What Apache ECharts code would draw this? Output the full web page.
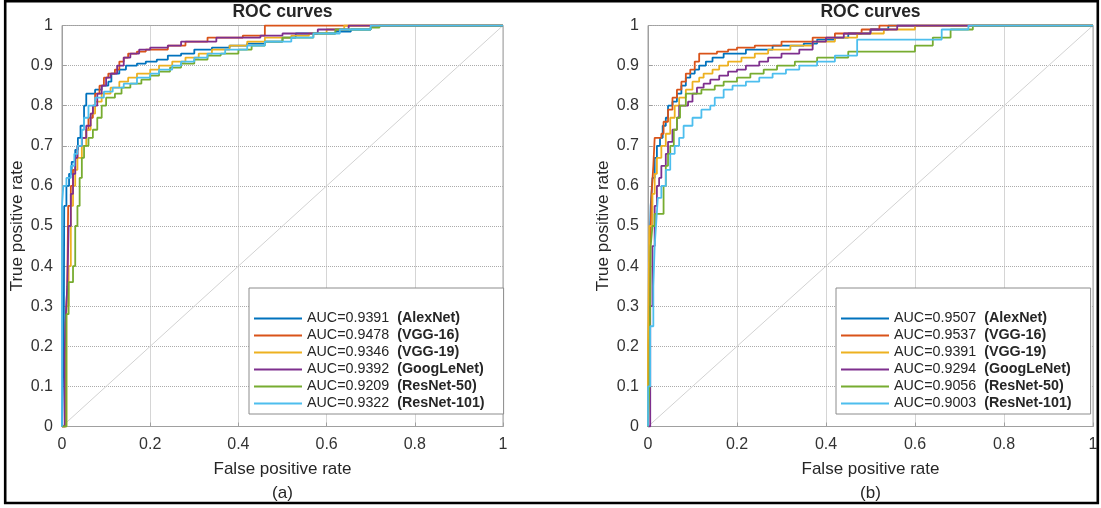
<!DOCTYPE html>
<html>
<head>
<meta charset="utf-8">
<script src="https://cdn.jsdelivr.net/npm/echarts@6/dist/echarts.min.js"></script>
<style>
  html, body { margin: 0; padding: 0; background: #fff; }
  #chart { width: 1101px; height: 508px; }
</style>
</head>
<body>
<div id="chart"></div>
<script>
// Model names, line colours and AUC values for the two ROC panels
const models = ['AlexNet', 'VGG-16', 'VGG-19', 'GoogLeNet', 'ResNet-50', 'ResNet-101'];
const lineColors = ['#0072BD', '#D95319', '#EDB120', '#7E2F8E', '#77AC30', '#4DBEEE'];
const aucPanelA = ['0.9391', '0.9478', '0.9346', '0.9392', '0.9209', '0.9322'];
const aucPanelB = ['0.9507', '0.9537', '0.9391', '0.9294', '0.9056', '0.9003'];
const panelLabels = ['(a)', '(b)'];
const xTickStep = 0.2;
const yTickStep = 0.1;

// ROC points [false positive rate, true positive rate]; each point is where the curve rises to that rate
const alexnetA = [[0,0],[0.004,0.2],[0.005,0.55],[0.01,0.6],[0.016,0.63],[0.022,0.66],[0.03,0.69],[0.036,0.72],[0.042,0.75],[0.05,0.8],[0.055,0.83],[0.075,0.84],[0.09,0.85],[0.105,0.86],[0.112,0.88],[0.13,0.89],[0.145,0.9],[0.17,0.905],[0.19,0.91],[0.215,0.915],[0.24,0.925],[0.27,0.93],[0.3,0.94],[0.34,0.945],[0.38,0.95],[0.42,0.955],[0.46,0.96],[0.5,0.97],[0.53,0.98],[0.62,0.985],[0.655,0.99],[0.7,1],[1,1]];
const vgg16A = [[0,0],[0.008,0.25],[0.012,0.35],[0.014,0.55],[0.02,0.6],[0.025,0.64],[0.03,0.67],[0.035,0.7],[0.045,0.72],[0.055,0.74],[0.06,0.77],[0.07,0.8],[0.075,0.83],[0.085,0.85],[0.095,0.87],[0.105,0.88],[0.12,0.89],[0.13,0.91],[0.14,0.92],[0.15,0.93],[0.17,0.935],[0.19,0.94],[0.24,0.95],[0.28,0.96],[0.33,0.97],[0.41,0.975],[0.46,1],[1,1]];
const vgg19A = [[0,0],[0.01,0.3],[0.015,0.4],[0.02,0.55],[0.025,0.6],[0.03,0.64],[0.035,0.67],[0.045,0.7],[0.055,0.74],[0.065,0.78],[0.075,0.81],[0.09,0.83],[0.11,0.845],[0.13,0.86],[0.15,0.87],[0.17,0.88],[0.2,0.89],[0.22,0.9],[0.25,0.91],[0.28,0.92],[0.31,0.93],[0.34,0.94],[0.38,0.95],[0.42,0.96],[0.46,0.97],[0.52,0.975],[0.56,0.98],[0.6,0.99],[0.64,1],[1,1]];
const googlenetA = [[0,0],[0.006,0.18],[0.008,0.26],[0.012,0.35],[0.015,0.5],[0.02,0.58],[0.025,0.63],[0.03,0.67],[0.035,0.7],[0.045,0.72],[0.055,0.75],[0.065,0.78],[0.07,0.8],[0.08,0.83],[0.09,0.85],[0.1,0.87],[0.11,0.88],[0.125,0.9],[0.14,0.92],[0.155,0.93],[0.175,0.94],[0.2,0.945],[0.24,0.95],[0.27,0.96],[0.35,0.97],[0.45,0.975],[0.5,0.98],[0.58,0.99],[0.65,1],[1,1]];
const resnet50A = [[0,0],[0.01,0.28],[0.015,0.36],[0.025,0.4],[0.03,0.5],[0.035,0.55],[0.04,0.62],[0.045,0.67],[0.05,0.7],[0.06,0.72],[0.07,0.74],[0.08,0.77],[0.09,0.8],[0.1,0.82],[0.12,0.83],[0.135,0.845],[0.155,0.855],[0.18,0.865],[0.2,0.875],[0.22,0.885],[0.245,0.895],[0.27,0.905],[0.3,0.915],[0.33,0.925],[0.36,0.93],[0.4,0.94],[0.43,0.95],[0.46,0.96],[0.5,0.97],[0.57,0.98],[0.62,0.99],[0.7,0.995],[0.72,1],[1,1]];
const resnet101A = [[0,0],[0,0.55],[0.003,0.6],[0.01,0.62],[0.02,0.65],[0.028,0.68],[0.035,0.7],[0.045,0.74],[0.05,0.77],[0.06,0.8],[0.075,0.82],[0.095,0.835],[0.115,0.845],[0.14,0.855],[0.17,0.87],[0.2,0.88],[0.22,0.89],[0.25,0.9],[0.27,0.91],[0.3,0.92],[0.33,0.93],[0.37,0.94],[0.42,0.95],[0.46,0.96],[0.52,0.97],[0.57,0.98],[0.63,0.99],[0.7,1],[1,1]];

const alexnetB = [[0,0],[0.003,0.4],[0.006,0.55],[0.01,0.62],[0.015,0.67],[0.02,0.7],[0.027,0.72],[0.033,0.75],[0.04,0.77],[0.045,0.8],[0.055,0.81],[0.065,0.83],[0.075,0.85],[0.085,0.87],[0.095,0.88],[0.105,0.89],[0.115,0.9],[0.13,0.91],[0.145,0.92],[0.17,0.93],[0.22,0.94],[0.28,0.95],[0.35,0.955],[0.38,0.965],[0.42,0.97],[0.45,0.98],[0.5,0.99],[0.54,1],[1,1]];
const vgg16B = [[0,0],[0.003,0.27],[0.005,0.45],[0.008,0.58],[0.012,0.65],[0.015,0.72],[0.03,0.73],[0.035,0.76],[0.045,0.79],[0.055,0.82],[0.065,0.84],[0.075,0.86],[0.085,0.88],[0.095,0.89],[0.105,0.91],[0.115,0.93],[0.155,0.935],[0.18,0.94],[0.2,0.945],[0.24,0.95],[0.3,0.96],[0.37,0.97],[0.42,0.98],[0.48,0.99],[0.52,1],[1,1]];
const vgg19B = [[0,0],[0,0.2],[0.003,0.5],[0.01,0.58],[0.015,0.63],[0.02,0.67],[0.03,0.7],[0.04,0.73],[0.05,0.77],[0.06,0.8],[0.07,0.82],[0.085,0.84],[0.1,0.86],[0.115,0.87],[0.125,0.88],[0.145,0.89],[0.16,0.9],[0.18,0.91],[0.21,0.92],[0.24,0.93],[0.27,0.94],[0.32,0.95],[0.37,0.96],[0.42,0.97],[0.47,0.98],[0.53,0.99],[0.6,1],[1,1]];
const googlenetB = [[0,0],[0.005,0.3],[0.01,0.45],[0.015,0.55],[0.02,0.6],[0.025,0.62],[0.03,0.65],[0.04,0.68],[0.045,0.71],[0.055,0.74],[0.065,0.77],[0.07,0.8],[0.09,0.81],[0.1,0.83],[0.11,0.845],[0.125,0.855],[0.14,0.865],[0.16,0.875],[0.18,0.885],[0.2,0.89],[0.22,0.9],[0.25,0.91],[0.27,0.92],[0.3,0.93],[0.34,0.94],[0.37,0.96],[0.4,0.97],[0.44,0.98],[0.5,0.99],[0.56,1],[1,1]];
const resnet50B = [[0,0],[0.003,0.1],[0.006,0.45],[0.01,0.5],[0.015,0.53],[0.035,0.6],[0.04,0.65],[0.045,0.68],[0.05,0.7],[0.058,0.74],[0.065,0.77],[0.072,0.8],[0.085,0.83],[0.12,0.84],[0.15,0.85],[0.17,0.86],[0.2,0.87],[0.23,0.88],[0.26,0.89],[0.29,0.9],[0.33,0.91],[0.38,0.92],[0.45,0.935],[0.6,0.95],[0.64,0.97],[0.68,0.99],[0.73,1],[1,1]];
const resnet101B = [[0,0],[0,0.1],[0.005,0.25],[0.012,0.35],[0.015,0.45],[0.018,0.5],[0.022,0.57],[0.03,0.6],[0.04,0.64],[0.05,0.68],[0.06,0.7],[0.07,0.72],[0.08,0.75],[0.1,0.77],[0.12,0.79],[0.14,0.8],[0.15,0.82],[0.17,0.84],[0.19,0.85],[0.22,0.86],[0.25,0.87],[0.28,0.88],[0.31,0.89],[0.34,0.9],[0.38,0.91],[0.42,0.925],[0.47,0.965],[0.66,0.99],[0.72,1],[1,1]];

const curvesA = [alexnetA, vgg16A, vgg19A, googlenetA, resnet50A, resnet101A];
const curvesB = [alexnetB, vgg16B, vgg19B, googlenetB, resnet50B, resnet101B];
const chanceLine = [[0, 0], [1, 1]];

const FONT = '"Liberation Sans", Arial, Helvetica, sans-serif';
const TEXT = '#262626';
const LEGEND_FONT = 14.3;

// Plot areas (pixels)
const grids = [
  { left: 62, top: 25.5, width: 441, height: 401 },
  { left: 648, top: 25.5, width: 445, height: 401 }
];
const legendLeft = [249, 836];

function seriesName(auc, model) { return 'AUC=' + auc + ' (' + model + ')'; }

function axisPair(i) {
  const common = {
    type: 'value', gridIndex: i, min: 0, max: 1,
    nameLocation: 'middle',
    nameTextStyle: { fontFamily: FONT, fontSize: 17, color: TEXT },
    axisLine: { show: true, onZero: false, lineStyle: { color: '#a0a0a0', width: 1 } },
    axisTick: { show: true, inside: true, length: 4, lineStyle: { color: '#a0a0a0' } },
    axisLabel: { fontFamily: FONT, fontSize: 16, color: '#333' },
    splitLine: { show: true, lineStyle: { type: 'dotted', color: '#ababab', width: 1 } }
  };
  const x = Object.assign({}, common, {
    interval: xTickStep, name: 'False positive rate', nameGap: 34,
    axisLabel: Object.assign({}, common.axisLabel, { margin: 10 })
  });
  const y = Object.assign({}, common, {
    interval: yTickStep, name: 'True positive rate', nameGap: 36, nameRotate: 90,
    axisLabel: Object.assign({}, common.axisLabel, { margin: 9 })
  });
  return { x, y };
}

const xAxes = [], yAxes = [], series = [], legends = [];
[[aucPanelA, curvesA], [aucPanelB, curvesB]].forEach(([aucs, curves], p) => {
  const ax = axisPair(p);
  xAxes.push(ax.x);
  yAxes.push(ax.y);
  series.push({
    type: 'line', xAxisIndex: p, yAxisIndex: p, data: chanceLine,
    symbol: 'none', silent: true,
    lineStyle: { color: '#d2d2d2', width: 1 }, z: 1
  });
  const names = [];
  models.forEach((m, k) => {
    const name = seriesName(aucs[k], m);
    names.push(name);
    series.push({
      name, type: 'line', xAxisIndex: p, yAxisIndex: p,
      data: curves[k], step: 'end', symbol: 'none',
      color: lineColors[k],
      lineStyle: { color: lineColors[k], width: 1.8 }, z: 2 + k
    });
  });
  legends.push({
    data: names, orient: 'vertical',
    left: legendLeft[p], top: 288,
    padding: [23, 19, 3, 5],
    itemGap: 2, itemWidth: 48, itemHeight: 2, icon: 'rect',
    backgroundColor: '#fff', borderColor: '#8c8c8c', borderWidth: 1,
    selectedMode: false,
    formatter: function (name) {
      const i = name.indexOf(' (');
      return '{v|' + name.slice(0, i) + '}  {m|' + name.slice(i + 1) + '}';
    },
    textStyle: {
      fontFamily: FONT, fontSize: LEGEND_FONT, color: TEXT, lineHeight: 15,
      rich: {
        v: { fontFamily: FONT, fontSize: LEGEND_FONT, color: TEXT, lineHeight: 15 },
        m: { fontFamily: FONT, fontSize: LEGEND_FONT, fontWeight: 'bold', color: TEXT, lineHeight: 15 }
      }
    }
  });
});

const titles = [];
grids.forEach((g, p) => {
  const cx = g.left + g.width / 2;
  titles.push({
    text: 'ROC curves', left: cx, top: 3, textAlign: 'center', padding: 0,
    textStyle: { fontFamily: FONT, fontSize: 17.5, fontWeight: 'bold', color: TEXT }
  });
  titles.push({
    text: panelLabels[p], left: cx, top: 485, textAlign: 'center', padding: 0,
    textStyle: { fontFamily: FONT, fontSize: 17, fontWeight: 'normal', color: TEXT }
  });
});

const chart = echarts.init(document.getElementById('chart'), null, { renderer: 'canvas' });
chart.setOption({
  animation: false,
  backgroundColor: '#fff',
  title: titles,
  grid: grids.map(g => Object.assign({ show: true, borderColor: '#a0a0a0', borderWidth: 1, backgroundColor: 'transparent' }, g)),
  xAxis: xAxes,
  yAxis: yAxes,
  legend: legends,
  series,
  graphic: [{
    type: 'rect', silent: true, z: 100,
    shape: { x: 5.2, y: 1.2, width: 1092.6, height: 501.8 },
    style: { fill: 'none', stroke: '#000', lineWidth: 2.6 }
  }]
});
</script>
</body>
</html>
